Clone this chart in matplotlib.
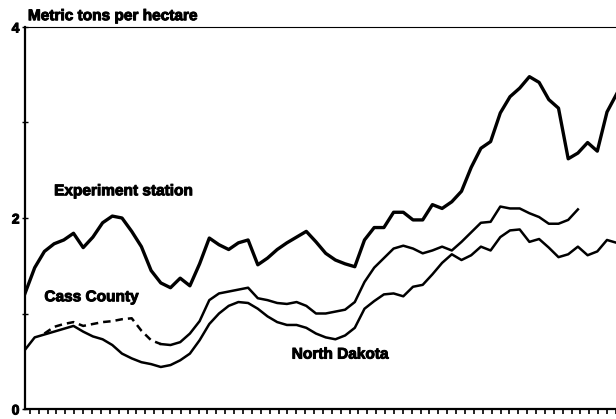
import numpy as np
import matplotlib
matplotlib.use("Agg")
import matplotlib.pyplot as plt
import matplotlib.patheffects as pe

# one point per year
years = np.arange(1918, 1980)

station = [1.21, 1.48, 1.65, 1.73, 1.77, 1.84, 1.69, 1.80, 1.95, 2.02,
           2.00, 1.86, 1.70, 1.45, 1.32, 1.27, 1.37, 1.29, 1.52, 1.79,
           1.72, 1.67, 1.74, 1.77, 1.51, 1.58, 1.67, 1.74, 1.80, 1.86,
           1.75, 1.63, 1.56, 1.52, 1.49, 1.77, 1.90, 1.90, 2.06, 2.06,
           1.98, 1.98, 2.14, 2.10, 2.17, 2.28, 2.53, 2.73, 2.80, 3.10,
           3.27, 3.36, 3.48, 3.42, 3.24, 3.15, 2.62, 2.68, 2.79, 2.70,
           3.11, 3.30]

north_dakota = [0.62, 0.75, 0.78, 0.81, 0.84, 0.87, 0.81, 0.76, 0.73, 0.67,
                0.58, 0.53, 0.49, 0.47, 0.44, 0.46, 0.51, 0.58, 0.72, 0.89,
                1.00, 1.08, 1.12, 1.11, 1.05, 0.97, 0.91, 0.88, 0.88, 0.85,
                0.79, 0.75, 0.73, 0.77, 0.85, 1.05, 1.13, 1.20, 1.21, 1.18,
                1.28, 1.30, 1.41, 1.53, 1.62, 1.56, 1.61, 1.70, 1.66, 1.80,
                1.87, 1.88, 1.75, 1.78, 1.69, 1.59, 1.62, 1.70, 1.61, 1.65,
                1.77, 1.74]

# Cass County: estimated (dashed) 1920-1932, reported 1932-1975
cass_est_years = np.arange(1920, 1933)
cass_est = [0.79, 0.86, 0.89, 0.91, 0.87, 0.89, 0.91, 0.92, 0.94, 0.95,
            0.82, 0.72, 0.68]
cass_years = np.arange(1932, 1976)
cass = [0.68, 0.67, 0.70, 0.79, 0.92, 1.14, 1.21, 1.23, 1.25, 1.27,
        1.16, 1.14, 1.11, 1.10, 1.12, 1.08, 1.00, 1.00, 1.02, 1.04,
        1.12, 1.33, 1.48, 1.58, 1.68, 1.71, 1.68, 1.63, 1.66, 1.70,
        1.66, 1.75, 1.85, 1.95, 1.96, 2.12, 2.10, 2.10, 2.05, 2.01,
        1.94, 1.94, 1.98, 2.09]

fig = plt.figure(figsize=(6.16, 4.19), dpi=100)
ax = fig.add_axes([25 / 616, 10 / 419, 591 / 616, 382 / 419])

ax.plot(years, station, color="black", lw=2.4)
ax.plot(years, north_dakota, color="black", lw=1.8)
ax.plot(cass_years, cass, color="black", lw=1.8)
ax.plot(cass_est_years, cass_est, color="black", lw=1.8, ls=(0, (3, 2)))

x0 = years[0]
x1 = x0 + 591 / 9.7
ax.set_xlim(x0, x1)
ax.set_ylim(0, 4)

ax.spines["right"].set_visible(False)
ax.spines["top"].set_linewidth(0.8)
ax.spines["left"].set_linewidth(1.6)
ax.spines["bottom"].set_linewidth(1.6)

heavy = [pe.withStroke(linewidth=0.7, foreground="black")]

ax.set_yticks([0, 2, 4])
ax.set_yticklabels(["0", "2", "4"], fontsize=10, fontweight="bold",
                   family="Liberation Sans")
for t in ax.get_yticklabels():
    t.set_path_effects(heavy)
ax.set_yticks([1, 3], minor=True)
ax.tick_params(axis="y", which="both", direction="inout", length=4, width=1, pad=2)

ax.set_xticks(np.linspace(x0 + 0.5, x1, 67))
ax.set_xticklabels([])
ax.tick_params(axis="x", direction="out", length=3.5, width=1.2)

lbl = dict(fontsize=11.1, fontweight="bold", family="Liberation Sans",
           color="black", path_effects=heavy)
ax.text(x0 + 0.3, 4.04, "Metric tons per hectare", ha="left", va="bottom",
        clip_on=False, **lbl)
ax.text(1921.0, 2.28, "Experiment station", ha="left", va="center", **lbl)
ax.text(1920.0, 1.17, "Cass County", ha="left", va="center", **lbl)
ax.text(1945.5, 0.57, "North Dakota", ha="left", va="center", **lbl)

fig.savefig("out.png", dpi=100)
